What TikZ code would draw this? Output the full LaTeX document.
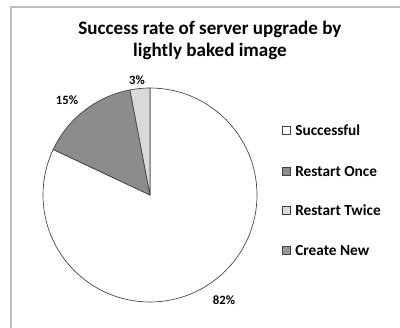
\documentclass[tikz,border=0pt]{standalone}
\usepackage{fontspec}
\setmainfont{Carlito}
\usetikzlibrary{patterns}
\definecolor{frame}{HTML}{BFBFBF}
\definecolor{edge}{HTML}{404040}
\definecolor{once}{HTML}{8C8C8C}
\definecolor{twice}{HTML}{D9D9D9}
\definecolor{cnew}{HTML}{A0A0A0}
\definecolor{cnewdots}{HTML}{505050}
\tikzset{
  slice/.style={draw=edge, line width=0.5pt, line join=round},
  pct/.style={font=\fontsize{9.5}{11}\selectfont\bfseries, inner sep=0pt},
  legtext/.style={font=\fontsize{11.5}{13}\selectfont\bfseries, anchor=west, inner sep=0pt},
  legbox/.style={draw=edge, line width=0.4pt, minimum size=6pt, inner sep=0pt},
}
\begin{document}
\begin{tikzpicture}[x=0.75pt,y=0.75pt]
\useasboundingbox (0,0) rectangle (400,-328);
\fill[white] (0,0) rectangle (400,-328);
% frame
\draw[frame, line width=1pt] (11,-328) -- (11,-7) -- (400,-7);
% title
\node[font=\fontsize{14.3}{16.5}\selectfont\bfseries, align=center, inner sep=0pt] (title) at (210,-40) {Success rate of server upgrade by\\lightly baked image};
% pie
\coordinate (c) at (150,-195);
\filldraw[slice, fill=white] (c) -- ++(90:107) arc[start angle=90, end angle=-205.2, radius=107] -- cycle;
\filldraw[slice, fill=once] (c) -- ++(154.8:107) arc[start angle=154.8, end angle=100.8, radius=107] -- cycle;
\filldraw[slice, fill=twice] (c) -- ++(100.8:107) arc[start angle=100.8, end angle=90, radius=107] -- cycle;
% labels
\node[pct] (p3) at (137,-80) {3\%};
\node[pct] (p15) at (67,-100) {15\%};
\node[pct] (p82) at (224,-300) {82\%};
% legend
\node[legbox, fill=white] (b1) at (286,-130) {};
\node[legtext] (l1) at (295,-130.5) {Successful};
\node[legbox, fill=once] (b2) at (286,-171) {};
\node[legtext] (l2) at (295,-171.5) {Restart Once};
\node[legbox, fill=twice] (b3) at (286,-210) {};
\node[legtext] (l3) at (295,-210.5) {Restart Twice};
\node[legbox, fill=cnew, postaction={pattern=crosshatch dots, pattern color=cnewdots}] (b4) at (286,-250) {};
\node[legtext] (l4) at (295,-250.5) {Create New};
\end{tikzpicture}
\end{document}
